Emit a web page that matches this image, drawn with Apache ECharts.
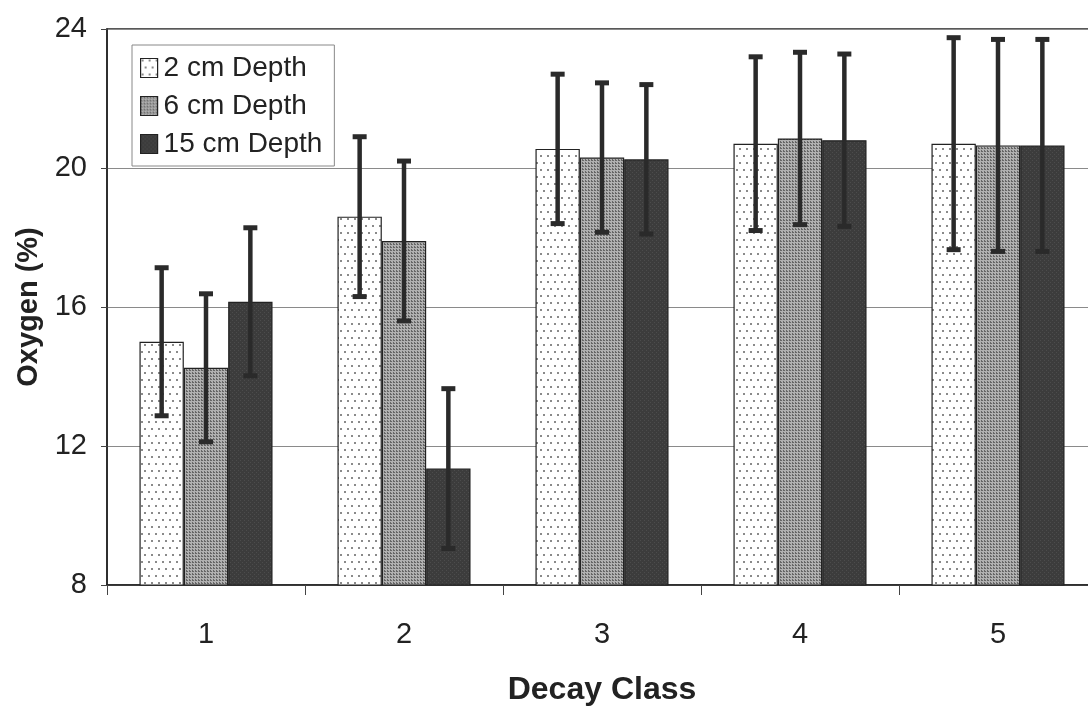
<!DOCTYPE html>
<html>
<head>
<meta charset="utf-8">
<script src="https://cdn.jsdelivr.net/npm/echarts@6/dist/echarts.min.js"></script>
<style>
html,body{margin:0;padding:0;background:#fff;}
#chart{width:1088px;height:707px;}
</style>
</head>
<body>
<div id="chart"></div>
<script>
// ---- data ----
const categories = ['1', '2', '3', '4', '5'];
const seriesNames = ['2 cm Depth', '6 cm Depth', '15 cm Depth'];
const depth2 = [15.0, 18.6, 20.55, 20.7, 20.7];
const depth6 = [14.25, 17.9, 20.3, 20.85, 20.65];
const depth15 = [16.15, 11.35, 20.25, 20.8, 20.65];
const err2 = [2.13, 2.3, 2.15, 2.5, 3.05];
const err6 = [2.13, 2.3, 2.15, 2.48, 3.05];
const err15 = [2.13, 2.3, 2.15, 2.48, 3.05];
const yTicks = [8, 12, 16, 20, 24];

const FONT = '"Liberation Sans", Arial, sans-serif';
const BAR_RATIO = 0.224;

function makePattern(w, h, bg, draw) {
  const c = document.createElement('canvas');
  c.width = w; c.height = h;
  const g = c.getContext('2d');
  g.fillStyle = bg; g.fillRect(0, 0, w, h);
  draw(g);
  return c;
}
const pat1 = makePattern(14, 14, '#ffffff', g => {
  g.fillStyle = '#8a8a8a';
  g.fillRect(1, 1, 2, 2);
  g.fillRect(8, 1, 2, 2);
  g.fillRect(4, 8, 2, 2);
  g.fillRect(11, 8, 2, 2);
});
const pat2 = makePattern(3, 3, '#b0b0b0', g => {
  g.fillStyle = '#666666';
  g.fillRect(0, 0, 1, 2);
  g.fillRect(1, 1, 1, 1);
});
const pat3 = makePattern(4, 4, '#3c3c3c', g => {
  g.fillStyle = '#4c4c4c';
  g.fillRect(0, 0, 1, 1);
  g.fillRect(2, 2, 1, 1);
});
const fills = [
  { image: pat1, repeat: 'repeat' },
  { image: pat2, repeat: 'repeat' },
  { image: pat3, repeat: 'repeat' }
];

const values = [depth2, depth6, depth15];
const errors = [err2, err6, err15];

const barSeries = values.map((vals, k) => ({
  name: seriesNames[k],
  type: 'bar',
  data: vals,
  barWidth: (BAR_RATIO * 100) + '%',
  barGap: '0%',
  itemStyle: { color: fills[k], borderColor: '#222', borderWidth: 1.2 },
  z: 2
}));

const errSeries = values.map((vals, k) => ({
  type: 'custom',
  name: seriesNames[k] + ' err',
  data: vals.map((v, i) => [i, v - errors[k][i], v + errors[k][i]]),
  z: 5,
  silent: true,
  renderItem: function (params, api) {
    const ci = api.value(0);
    const lo = api.coord([ci, api.value(1)]);
    const hi = api.coord([ci, api.value(2)]);
    const bw = api.size([1, 0])[0] * BAR_RATIO;
    const x = hi[0] + (k - 1) * bw;
    const cap = 7;
    const st = { stroke: '#2a2a2a', lineWidth: 4.5 };
    const capSt = { stroke: '#2a2a2a', lineWidth: 5 };
    return {
      type: 'group',
      children: [
        { type: 'line', shape: { x1: x, y1: hi[1], x2: x, y2: lo[1] }, style: st },
        { type: 'line', shape: { x1: x - cap, y1: hi[1], x2: x + cap, y2: hi[1] }, style: capSt },
        { type: 'line', shape: { x1: x - cap, y1: lo[1], x2: x + cap, y2: lo[1] }, style: capSt }
      ]
    };
  }
}));

const chart = echarts.init(document.getElementById('chart'));
chart.setOption({
  backgroundColor: '#ffffff',
  animation: false,
  grid: {
    left: 107, top: 29, width: 990, height: 556,
    outerBoundsMode: 'none',
    containLabel: false,
    show: true, borderColor: '#222', borderWidth: 1.5, backgroundColor: 'transparent'
  },
  legend: {
    data: seriesNames,
    orient: 'vertical',
    left: 132, top: 45,
    icon: 'rect',
    itemWidth: 17, itemHeight: 19,
    itemGap: 10,
    padding: [9, 12, 8, 8],
    backgroundColor: '#fff',
    borderColor: '#888',
    borderWidth: 1,
    textStyle: { fontFamily: FONT, fontSize: 28, color: '#222', lineHeight: 28, padding: [0, 0, 0, 1] },
    itemStyle: { borderColor: '#222', borderWidth: 1.2 }
  },
  xAxis: {
    type: 'category',
    data: categories,
    boundaryGap: true,
    axisLine: { show: true, lineStyle: { color: '#222', width: 1.5 } },
    axisTick: { show: true, length: 10, lineStyle: { color: '#444', width: 1 } },
    axisLabel: { fontFamily: FONT, fontSize: 29, color: '#222', margin: 35 },
    name: 'Decay Class',
    nameLocation: 'middle',
    nameGap: 89,
    nameTextStyle: { fontFamily: FONT, fontSize: 32, fontWeight: 'bold', color: '#222' }
  },
  yAxis: {
    type: 'value',
    min: yTicks[0], max: yTicks[yTicks.length - 1], interval: 4,
    axisLine: { show: true, lineStyle: { color: '#222', width: 1.5 } },
    axisTick: { show: true, length: 6, lineStyle: { color: '#444', width: 1 } },
    splitLine: { show: true, lineStyle: { color: '#8a8a8a', width: 1 } },
    axisLabel: { fontFamily: FONT, fontSize: 29, color: '#222', margin: 20 },
    name: 'Oxygen (%)',
    nameLocation: 'middle',
    nameGap: 64,
    nameTextStyle: { fontFamily: FONT, fontSize: 29, fontWeight: 'bold', color: '#222' }
  },
  series: barSeries.concat(errSeries)
});
</script>
</body>
</html>
